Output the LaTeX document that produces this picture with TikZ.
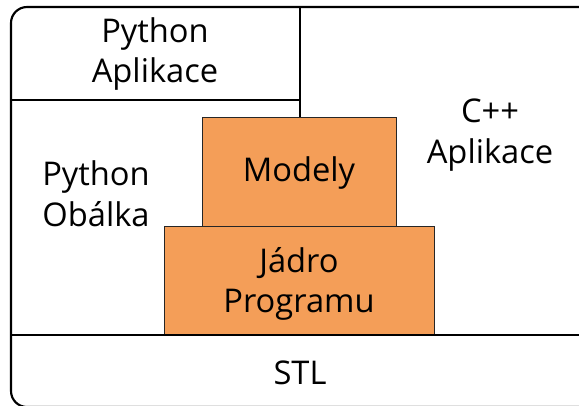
\documentclass[tikz,border=0pt]{standalone}
\usepackage{fontspec}
\setmainfont{Open Sans}
\begin{document}
\begin{tikzpicture}[x=0.75pt,y=-0.75pt,
  frame/.style={line width=1.6pt,black},
  sep/.style={line width=1.2pt,black},
  layer/.style={draw=black!85,line width=1pt,fill=corefill},
  lbl/.style={font=\fontsize{24.5}{30.5}\selectfont,align=center,inner sep=0pt,text=black}]
\definecolor{corefill}{HTML}{F49E58}
\useasboundingbox (0,0) rectangle (579,405);
\begin{scope}
\clip (0,0) rectangle (579,405);
\draw[frame,rounded corners=12pt] (11,7) rectangle (620,407);
\end{scope}
\coordinate (pyL) at (11,100);
\coordinate (pyR) at (300,100);
\coordinate (vT) at (300,7);
\coordinate (stlL) at (11,335);
\coordinate (stlR) at (579,335);
\draw[sep] (pyL) -- (pyR);
\node[layer,minimum width=194*0.75pt,minimum height=109*0.75pt,anchor=north west] (modely) at (202,117) {};
\node[layer,minimum width=270*0.75pt,minimum height=109*0.75pt,anchor=north west] (jadro) at (164,226) {};
\draw[sep] (vT) -- (modely.north -| vT);
\draw[frame] (stlL) -- (stlR);
\node[lbl] (pyapp) at (155,54) {Python\\Aplikace};
\node[lbl] (pyobal) at (96,194) {Python\\Obálka};
\node[lbl] (cppapp) at (490,135) {C++\\Aplikace};
\node[lbl] (modtxt) at (299,173) {Modely};
\node[lbl] (jadtxt) at (299,284) {Jádro\\Programu};
\node[lbl] (stl) at (300,373) {STL};
\end{tikzpicture}
\end{document}
